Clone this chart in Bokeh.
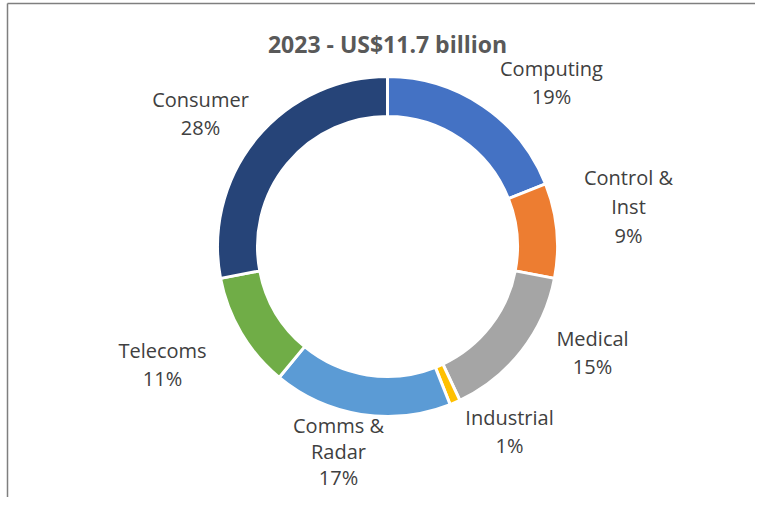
import math
from bokeh.plotting import figure
from bokeh.models import Range1d, ColumnDataSource
from bokeh.core.properties import value
from bokeh.embed import file_html
from bokeh.resources import INLINE

# ---- data ----
title = "2023 - US$11.7 billion"
categories = ["Computing", "Control &\nInst", "Medical", "Industrial",
              "Comms &\nRadar", "Telecoms", "Consumer"]
shares = [19, 9, 15, 1, 17, 11, 28]
colors = ["#4472C4", "#ED7D31", "#A5A5A5", "#FFC000", "#5B9BD5", "#70AD47", "#264478"]

# ---- layout (pixel positions in the picture) ----
cx, cy = 387, 246
r_out, r_in = 170, 130
label_x = [551, 628, 592, 509, 338, 162, 200]
label_y = [82, 206, 352, 431, 451, 364, 113]
line_h = [1.07, 1.07, 1.07, 1.07, 0.98, 1.07, 1.07]

W, H = 755, 497
p = figure(width=W, height=H, output_backend="svg", toolbar_location=None,
           x_range=Range1d(0, W), y_range=Range1d(-H, 0),
           min_border=0, outline_line_color=None)
p.axis.visible = False
p.grid.visible = False
p.background_fill_color = "white"
p.border_fill_color = "white"

total = float(sum(shares))
starts, ends = [], []
cum = 0.0
for s in shares:
    starts.append(math.pi / 2 - 2 * math.pi * cum / total)
    cum += s
    ends.append(math.pi / 2 - 2 * math.pi * cum / total)

src = ColumnDataSource(dict(
    x=[cx] * len(shares), y=[-cy] * len(shares),
    start=starts, end=ends, color=colors,
    lx=label_x, ly=[-v for v in label_y], lh=line_h,
    label=[f"{c}\n{s}%" for c, s in zip(categories, shares)],
))

p.annular_wedge(x="x", y="y", inner_radius=r_in, outer_radius=r_out,
                start_angle="start", end_angle="end", direction="clock",
                fill_color="color", line_color="white", line_width=3, source=src)

p.text(x="lx", y="ly", text="label", source=src, text_align="center",
       text_baseline="middle", text_font=value("Open Sans"),
       text_font_size="20px", text_color="#404040", text_line_height="lh")

p.text(x=[cx], y=[-43], text=[title], text_align="center", text_baseline="middle",
       text_font=value("Open Sans"), text_font_size="23px",
       text_font_style="bold", text_color="#595959")

# chart-area border (bottom edge falls outside the picture)
p.multi_line(xs=[[7, 7], [7, 765], [765, 765]],
             ys=[[-3, -520], [-3, -3], [-3, -520]],
             line_color="#7F7F7F", line_width=1.5)

open("out.html", "w").write(file_html(p, INLINE))
